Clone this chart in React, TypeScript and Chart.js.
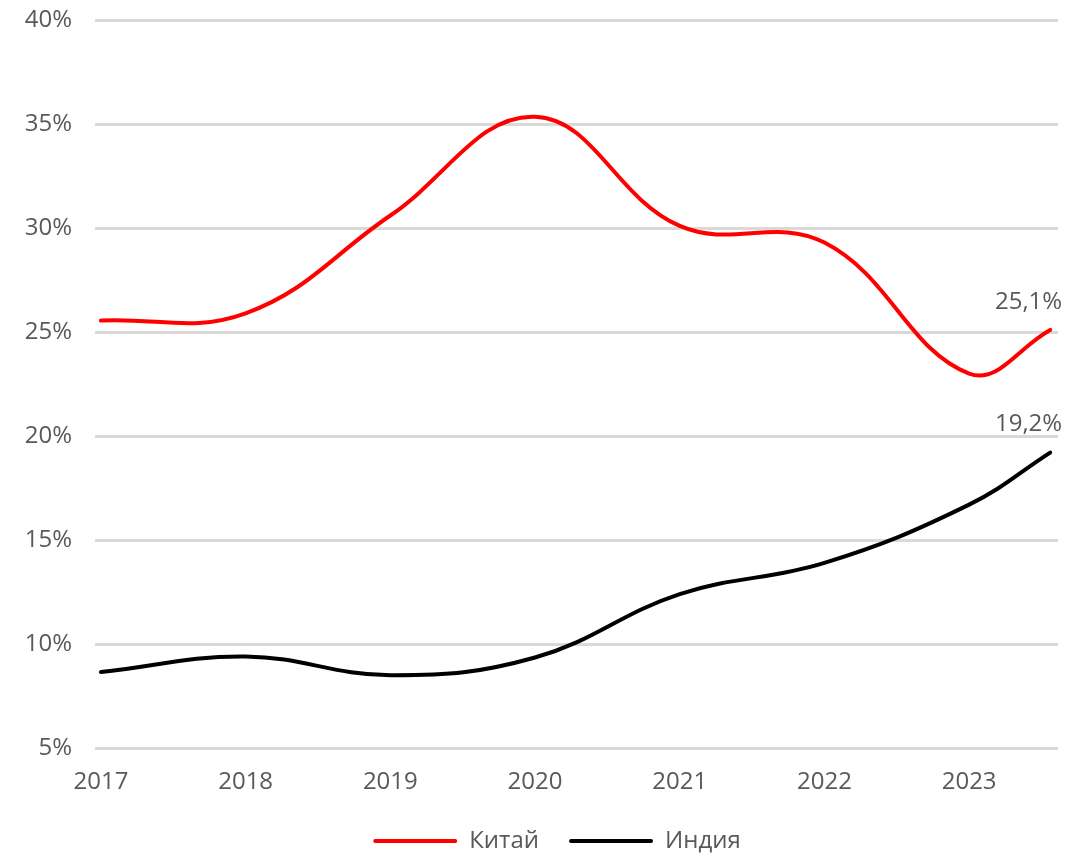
import React, { useEffect, useRef } from 'react';
import { Chart, registerables } from 'chart.js';

Chart.register(...registerables);

// ---- data ----
const periods = [2017, 2018, 2019, 2020, 2021, 2022, 2023, 2023.56];
const yearTicks = [2017, 2018, 2019, 2020, 2021, 2022, 2023];
const chinaValues = [25.55, 25.9, 30.6, 35.35, 30.1, 29.3, 23.0, 25.1];
const indiaValues = [8.65, 9.4, 8.5, 9.35, 12.4, 13.9, 16.7, 19.2];
const yTicks = [5, 10, 15, 20, 25, 30, 35, 40];
const seriesNames = ['Китай', 'Индия'];
const seriesColors = ['#ff0000', '#000000'];

const FONT = '"Open Sans", "DejaVu Sans", sans-serif';
const TEXT_COLOR = '#595959';

const lastLabelsPlugin = {
  id: 'lastLabels',
  afterDatasetsDraw(chart: any) {
    const ctx = chart.ctx;
    ctx.save();
    ctx.font = `24px ${FONT}`;
    ctx.fillStyle = TEXT_COLOR;
    ctx.textAlign = 'right';
    ctx.textBaseline = 'middle';
    chart.data.datasets.forEach((ds: any, i: number) => {
      const meta = chart.getDatasetMeta(i);
      const pt = meta.data[meta.data.length - 1];
      const v = ds.data[ds.data.length - 1].y;
      ctx.fillText(v.toFixed(1).replace('.', ',') + '%', pt.x + 12, pt.y - 28);
    });
    ctx.restore();
  },
};

const legendShiftPlugin = {
  id: 'legendShift',
  afterLayout(chart: any) {
    const lg = chart.legend;
    if (lg) {
      lg.left = 56;
      lg.right = 1058;
    }
  },
};

export default function App() {
  const ref = useRef<HTMLCanvasElement>(null);

  useEffect(() => {
    if (!ref.current) return;
    const font = { family: FONT, size: 24 };
    const chart = new Chart(ref.current, {
      type: 'line',
      data: {
        datasets: [
          {
            label: seriesNames[0],
            data: periods.map((x, i) => ({ x, y: chinaValues[i] })),
            borderColor: seriesColors[0],
            backgroundColor: seriesColors[0],
            borderWidth: 4,
            pointRadius: 0,
            tension: 0.4,
            borderCapStyle: 'round',
            borderJoinStyle: 'round',
          },
          {
            label: seriesNames[1],
            data: periods.map((x, i) => ({ x, y: indiaValues[i] })),
            borderColor: seriesColors[1],
            backgroundColor: seriesColors[1],
            borderWidth: 4,
            pointRadius: 0,
            tension: 0.4,
            borderCapStyle: 'round',
            borderJoinStyle: 'round',
          },
        ],
      },
      options: {
        animation: false,
        responsive: false,
        devicePixelRatio: 1,
        layout: { padding: { top: 20, right: 18, bottom: 3, left: 0 } },
        scales: {
          x: {
            type: 'linear',
            min: 2016.959,
            max: 2023.614,
            afterBuildTicks: (s: any) => {
              s.ticks = yearTicks.map((v) => ({ value: v }));
            },
            afterFit: (s: any) => {
              s.height = 51;
              s.paddingLeft = 0;
              s.paddingRight = 0;
            },
            ticks: {
              callback: (v: any) => String(v),
              font,
              color: TEXT_COLOR,
              padding: 12,
              maxRotation: 0,
              autoSkip: false,
            },
            grid: { display: false },
            border: { display: false },
          },
          y: {
            min: 5,
            max: 40,
            afterBuildTicks: (s: any) => {
              s.ticks = yTicks.map((v) => ({ value: v }));
            },
            afterFit: (s: any) => {
              s.width = 95;
              s.paddingTop = 0;
              s.paddingBottom = 0;
            },
            ticks: {
              callback: (v: any) => v + '%',
              font,
              color: TEXT_COLOR,
              padding: 23,
            },
            grid: { color: '#d9d9d9', lineWidth: 3, drawTicks: false },
            border: { display: false },
          },
        },
        plugins: {
          legend: {
            position: 'bottom',
            labels: {
              boxWidth: 84,
              boxHeight: 4,
              padding: 30,
              font,
              color: TEXT_COLOR,
              generateLabels: (c: any) =>
                c.data.datasets.map((ds: any, i: number) => ({
                  text: ds.label,
                  fillStyle: ds.borderColor,
                  strokeStyle: ds.borderColor,
                  fontColor: TEXT_COLOR,
                  lineWidth: 0,
                  borderRadius: 2,
                  datasetIndex: i,
                  hidden: false,
                })),
            },
          },
          tooltip: { enabled: false },
        },
      },
      plugins: [lastLabelsPlugin, legendShiftPlugin],
    } as any);
    return () => chart.destroy();
  }, []);

  return (
    <div style={{ position: 'fixed', left: 0, top: 0, width: 1076, height: 866, background: '#fff' }}>
      <canvas ref={ref} width={1076} height={866} style={{ display: 'block' }} />
    </div>
  );
}
